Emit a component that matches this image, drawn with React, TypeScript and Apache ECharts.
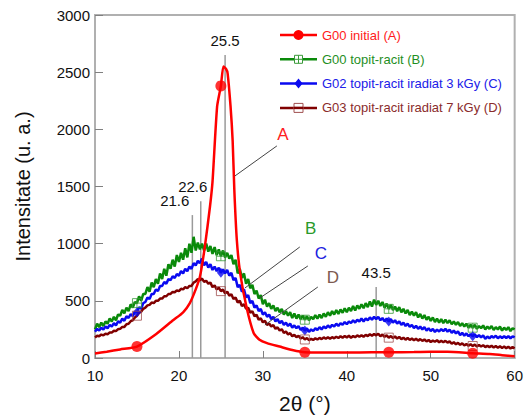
import React, { useEffect, useRef } from "react";
import * as echarts from "echarts";

// ---- data (2θ from 10 to 60, step 0.25) ----
const xStart = 10;
const xStep = 0.25;

const greenB = [
  250, 300, 270, 310, 280, 320, 300, 345, 320, 360, 330, 380,
  370, 420, 390, 440, 410, 470, 440, 490, 480, 540, 500, 560,
  560, 620, 580, 660, 620, 690, 650, 740, 690, 780, 720, 820,
  780, 860, 800, 900, 840, 920, 860, 960, 880, 1000, 920, 1060,
  940, 1010, 950, 1000, 940, 1000, 930, 980, 910, 970, 900, 950,
  890, 940, 880, 920, 870, 900, 820, 860, 740, 780, 700, 740,
  650, 690, 610, 640, 560, 590, 520, 550, 470, 510, 450, 480,
  430, 460, 410, 440, 400, 430, 380, 410, 370, 400, 350, 390,
  345, 380, 340, 370, 335, 365, 330, 360, 340, 375, 345, 380,
  350, 390, 360, 400, 370, 410, 380, 420, 385, 425, 395, 435,
  400, 440, 410, 455, 415, 460, 430, 470, 435, 480, 445, 495,
  450, 510, 465, 500, 455, 490, 440, 475, 430, 465, 420, 450,
  410, 445, 400, 430, 390, 420, 375, 405, 370, 400, 355, 385,
  345, 375, 335, 360, 325, 355, 315, 345, 310, 340, 305, 335,
  305, 330, 295, 320, 290, 315, 280, 305, 275, 300, 265, 290,
  265, 290, 255, 280, 260, 285, 250, 275, 255, 280, 245, 270,
  250, 275, 240, 265, 245, 270, 235, 260, 250,
];

const blueC = [
  230, 255, 240, 265, 250, 275, 260, 290, 275, 305, 285, 320,
  310, 345, 325, 365, 350, 385, 365, 405, 400, 445, 430, 480,
  490, 530, 515, 560, 560, 600, 585, 630, 630, 665, 650, 690,
  680, 715, 700, 735, 720, 760, 740, 780, 760, 800, 780, 830,
  810, 850, 830, 870, 810, 840, 790, 820, 770, 800, 760, 790,
  745, 775, 740, 770, 720, 745, 680, 700, 620, 640, 580, 600,
  530, 550, 480, 500, 440, 460, 410, 430, 380, 400, 360, 380,
  340, 360, 320, 340, 305, 325, 290, 310, 280, 300, 265, 285,
  260, 280, 245, 265, 240, 260, 228, 250, 235, 260, 245, 270,
  250, 275, 260, 285, 265, 290, 275, 300, 280, 305, 290, 315,
  295, 320, 305, 330, 310, 335, 320, 345, 320, 345, 330, 355,
  335, 360, 340, 360, 330, 350, 320, 345, 320, 340, 310, 330,
  300, 320, 290, 310, 280, 300, 272, 290, 262, 282, 255, 275,
  250, 270, 240, 260, 235, 255, 228, 248, 232, 252, 235, 255,
  230, 248, 220, 240, 215, 232, 200, 220, 195, 215, 190, 210,
  190, 208, 182, 200, 180, 198, 168, 188, 172, 192, 178, 195,
  172, 190, 175, 192, 175, 192, 172, 190, 180,
];

const brownD = [
  180, 195, 190, 205, 198, 212, 208, 222, 222, 238, 235, 252,
  255, 272, 272, 295, 300, 322, 330, 355, 370, 395, 405, 430,
  440, 460, 465, 485, 480, 500, 500, 520, 520, 540, 540, 560,
  560, 578, 575, 592, 585, 605, 600, 620, 610, 630, 630, 660,
  670, 690, 680, 695, 665, 675, 650, 660, 620, 635, 600, 615,
  585, 598, 565, 580, 545, 558, 515, 530, 485, 500, 455, 470,
  430, 440, 395, 410, 365, 378, 335, 348, 312, 325, 290, 302,
  275, 288, 255, 268, 240, 252, 220, 232, 205, 218, 190, 202,
  182, 195, 170, 182, 162, 175, 155, 168, 158, 172, 162, 176,
  165, 180, 168, 182, 168, 182, 172, 186, 175, 190, 178, 192,
  180, 195, 176, 192, 182, 198, 186, 200, 186, 202, 192, 208,
  195, 210, 198, 212, 190, 205, 185, 198, 178, 192, 175, 188,
  170, 185, 165, 178, 160, 175, 158, 170, 155, 168, 152, 165,
  150, 162, 145, 158, 140, 152, 142, 155, 138, 150, 137, 150,
  135, 146, 125, 138, 120, 132, 115, 128, 110, 122, 107, 120,
  105, 117, 101, 114, 100, 112, 95, 108, 95, 107, 92, 104,
  90, 102, 88, 100, 86, 98, 84, 95, 85,
];

const redX = [10, 11.4, 13, 15, 17.3, 19.3, 20.5, 21.3, 22, 22.5, 23.1, 23.7, 24, 24.55, 25, 25.3, 25.6, 25.8, 26.15, 26.4, 26.6, 26.9, 27.3, 28.05, 28.9, 29.6, 30.5, 32, 33.5, 35, 37, 40, 43, 45, 48, 50, 52, 55, 57, 58.5, 60];
const redY = [40, 55, 75, 100, 210, 330, 400, 480, 600, 710, 980, 1325, 1540, 2200, 2380, 2550, 2530, 2490, 2200, 1900, 1470, 1030, 740, 446, 219, 160, 130, 100, 70, 50, 48, 48, 50, 50, 52, 55, 55, 42, 35, 25, 15];

const markerX = [15, 25, 35, 45, 55];

const peakPos = [21.6, 22.6, 25.5, 43.5];
const peakTop = [1250, 1370, 2650, 620];

const legendNames = [
  "G00 initial (A)",
  "G00 topit-racit (B)",
  "G02 topit-racit iradiat 3 kGy (C)",
  "G03 topit-racit iradiat 7 kGy (D)",
];
const letters = ["A", "B", "C", "D"];
// leader lines in data coordinates: [x1, y1, x2, y2, textX, textY]
const leaders = [
  [26.67, 1592, 31.67, 1855, 32.38, 1951],
  [27.86, 612, 34.4, 971, 35.71, 1129],
  [29.64, 525, 35.36, 805, 36.9, 910],
  [30.24, 289, 36.55, 621, 38.33, 700],
];

const RED = "#ff0000";
const GREEN = "#0a8a0a";
const BLUE = "#0a0af0";
const BROWN = "#800000";
const lineColors = [RED, GREEN, BLUE, BROWN];
const textColors = ["#ff1a1a", "#1f8f1f", "#2020e8", "#8a2c2c"];
const letterColors = ["#ff2020", "#2a9a2a", "#2020e0", "#7d5a50"];

const FONT = "Arial, 'Liberation Sans', Helvetica, sans-serif";

const toPairs = (arr: number[]) => arr.map((v, i) => [xStart + i * xStep, v]);
const markerPairs = (arr: number[]) => markerX.map((x) => [x, arr[Math.round((x - xStart) / xStep)]]);
const redPairs = redX.map((x, i) => [x, redY[i]]);
const redMarkers = markerX.map((x) => [x, redY[redX.indexOf(x)]]);

const SQ_CROSS = "path://M0,0H10V10H0ZM5,0V10M0,5H10";

export default function App() {
  const ref = useRef<HTMLDivElement>(null);
  useEffect(() => {
    const chart = echarts.init(ref.current!, null, { renderer: "svg" });
    const option: any = {
      animation: false,
      backgroundColor: "#ffffff",
      grid: {
        left: 95,
        right: 10,
        top: 15,
        bottom: 61,
        show: true,
        borderColor: "#b0b0b0",
        borderWidth: 2,
      },
      xAxis: {
        type: "value",
        min: 10,
        max: 60,
        interval: 10,
        name: "2θ (°)",
        nameLocation: "middle",
        nameGap: 35,
        nameTextStyle: { fontSize: 21, color: "#111", fontFamily: FONT },
        axisLine: { lineStyle: { color: "#b0b0b0", width: 2 } },
        axisTick: { inside: true, length: 7, lineStyle: { color: "#808080" } },
        axisLabel: { fontSize: 15, color: "#111", margin: 10, fontFamily: FONT },
        splitLine: { show: false },
      },
      yAxis: {
        type: "value",
        min: 0,
        max: 3000,
        interval: 500,
        name: "Intensitate (u. a.)",
        nameLocation: "middle",
        nameGap: 62,
        nameTextStyle: { fontSize: 20, color: "#111", fontFamily: FONT },
        axisLine: { show: true, lineStyle: { color: "#b0b0b0", width: 2 } },
        axisTick: { show: true, inside: true, length: 8, lineStyle: { color: "#808080" } },
        axisLabel: {
          fontSize: 15,
          color: "#111",
          margin: 5,
          fontFamily: FONT,
          formatter: (v: number) => String(v),
        },
        splitLine: { show: false },
      },
      series: [
        {
          type: "line",
          data: toPairs(greenB),
          symbol: "none",
          lineStyle: { color: GREEN, width: 2.5 },
          z: 2,
        },
        {
          type: "line",
          data: toPairs(blueC),
          symbol: "none",
          lineStyle: { color: BLUE, width: 2.5 },
          z: 3,
        },
        {
          type: "line",
          data: toPairs(brownD),
          symbol: "none",
          lineStyle: { color: BROWN, width: 2.5 },
          z: 4,
        },
        {
          type: "line",
          data: redPairs,
          symbol: "none",
          smooth: 0.2,
          lineStyle: { color: RED, width: 2.5 },
          z: 5,
        },
        {
          type: "scatter",
          data: markerPairs(greenB),
          symbol: SQ_CROSS,
          symbolSize: 9,
          itemStyle: { color: "rgba(255,255,255,0)", borderColor: "#3a9a3a", borderWidth: 1 },
          z: 6,
        },
        {
          type: "scatter",
          data: markerPairs(blueC),
          symbol: "diamond",
          symbolSize: [8, 10],
          itemStyle: { color: BLUE },
          z: 6,
        },
        {
          type: "scatter",
          data: markerPairs(brownD),
          symbol: "rect",
          symbolSize: 9,
          itemStyle: { color: "rgba(255,255,255,0)", borderColor: "#a05050", borderWidth: 1 },
          z: 6,
        },
        {
          type: "scatter",
          data: redMarkers,
          symbol: "circle",
          symbolSize: 11,
          itemStyle: { color: RED },
          z: 7,
        },
      ],
    };
    chart.setOption(option);

    const px = (x: number, y: number) =>
      chart.convertToPixel({ xAxisIndex: 0, yAxisIndex: 0 }, [x, y]) as number[];

    const elements: any[] = [];

    // peak lines and labels
    const labelShift = [-3, -8, 0, 0];
    peakPos.forEach((p, i) => {
      const top = px(p, peakTop[i]);
      const bot = px(p, 0);
      elements.push({
        type: "line",
        z: 1,
        shape: { x1: top[0], y1: top[1], x2: bot[0], y2: bot[1] },
        style: { stroke: "#9a9a9a", lineWidth: 1.5 },
      });
      elements.push({
        type: "text",
        z: 20,
        x: top[0] + labelShift[i],
        y: top[1] - 7,
        style: {
          text: String(p),
          font: `15px ${FONT}`,
          fill: "#111",
          textAlign: i === 0 ? "right" : "center",
          textVerticalAlign: "bottom",
        },
      });
    });

    // letter leaders
    leaders.forEach((l, i) => {
      const a = px(l[0], l[1]);
      const b = px(l[2], l[3]);
      const t = px(l[4], l[5]);
      elements.push({
        type: "line",
        z: 20,
        shape: { x1: a[0], y1: a[1], x2: b[0], y2: b[1] },
        style: { stroke: "#444", lineWidth: 1 },
      });
      elements.push({
        type: "text",
        z: 20,
        x: t[0],
        y: t[1],
        style: {
          text: letters[i],
          font: `17px ${FONT}`,
          fill: letterColors[i],
          textAlign: "center",
          textVerticalAlign: "middle",
        },
      });
    });

    // legend
    legendNames.forEach((name, i) => {
      const y = 35 + i * 24.3;
      const cx = 298.5;
      const c = lineColors[i];
      elements.push({
        type: "line",
        z: 30,
        shape: { x1: 280, y1: y, x2: 317, y2: y },
        style: { stroke: c, lineWidth: 2.5 },
      });
      if (i === 0) {
        elements.push({ type: "circle", z: 31, shape: { cx, cy: y, r: 5 }, style: { fill: RED } });
      } else if (i === 1) {
        elements.push({ type: "rect", z: 31, shape: { x: cx - 4, y: y - 4, width: 8, height: 8 }, style: { fill: "#fff", stroke: "#3a9a3a", lineWidth: 1 } });
        elements.push({ type: "line", z: 32, shape: { x1: cx, y1: y - 4, x2: cx, y2: y + 4 }, style: { stroke: "#3a9a3a", lineWidth: 1 } });
        elements.push({ type: "line", z: 32, shape: { x1: cx - 4, y1: y, x2: cx + 4, y2: y }, style: { stroke: "#3a9a3a", lineWidth: 1 } });
      } else if (i === 2) {
        elements.push({ type: "polygon", z: 31, shape: { points: [[cx, y - 5], [cx + 4, y], [cx, y + 5], [cx - 4, y]] }, style: { fill: BLUE } });
      } else {
        elements.push({ type: "rect", z: 31, shape: { x: cx - 4.5, y: y - 4.5, width: 9, height: 9 }, style: { fill: "#fff", stroke: "#a05050", lineWidth: 1 } });
        elements.push({ type: "line", z: 32, shape: { x1: cx - 4.5, y1: y, x2: cx + 4.5, y2: y }, style: { stroke: BROWN, lineWidth: 2.5 } });
      }
      elements.push({
        type: "text",
        z: 30,
        x: 322,
        y: y,
        style: {
          text: name,
          font: `13px ${FONT}`,
          fill: textColors[i],
          textAlign: "left",
          textVerticalAlign: "middle",
        },
      });
    });

    chart.setOption({ graphic: elements });
    return () => chart.dispose();
  }, []);

  return (
    <div
      ref={ref}
      style={{ position: "fixed", left: 0, top: 0, width: 526, height: 419, background: "#fff" }}
    />
  );
}
